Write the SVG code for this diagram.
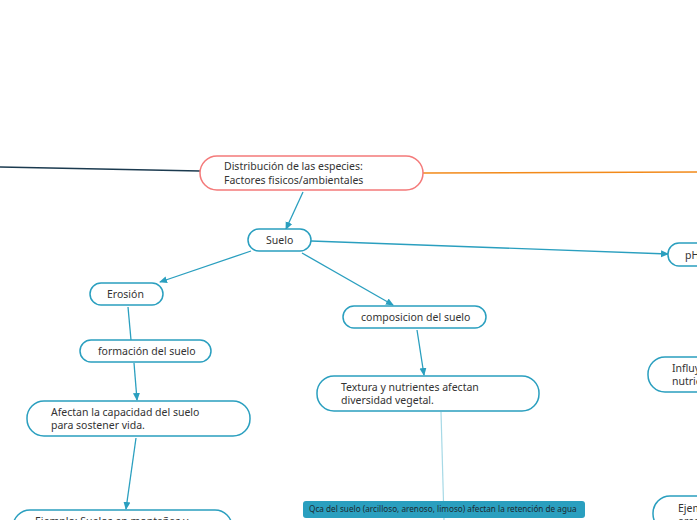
<svg xmlns="http://www.w3.org/2000/svg" width="697" height="520" viewBox="0 0 697 520">
<defs>
<marker id="ah" markerWidth="8" markerHeight="8" refX="7" refY="4" orient="auto" markerUnits="userSpaceOnUse">
<path d="M0,0.5 L8,4 L0,7.5 Z" fill="#2a9fbf"/>
</marker>
<style>
.n{fill:#fff;stroke:#2a9fbf;stroke-width:1.5}
.t{font-family:"Noto Sans","Liberation Sans",sans-serif;font-size:10.5px;fill:#333}
.c{fill:none;stroke:#2a9fbf;stroke-width:1.3}
</style>
</defs>
<rect width="697" height="520" fill="#fff"/>
<g id="connectors">
<path d="M0,167 L200,171" stroke="#1b3a4f" stroke-width="1.5" fill="none"/>
<path d="M423,173 L697,172" stroke="#f28a1a" stroke-width="1.5" fill="none"/>
<path class="c" d="M303,192 L286,229" marker-end="url(#ah)"/>
<path class="c" d="M311,241 L668,254" marker-end="url(#ah)"/>
<path class="c" d="M251,251 L160,282" marker-end="url(#ah)"/>
<path class="c" d="M128,307 L131,340"/>
<path class="c" d="M134,363 L137,400" marker-end="url(#ah)"/>
<path class="c" d="M136,438 L126,509" marker-end="url(#ah)"/>
<path class="c" d="M302,253 L393,305" marker-end="url(#ah)"/>
<path class="c" d="M417,330 L424,375" marker-end="url(#ah)"/>
<path d="M441,412 L444,520" stroke="#a6d9e6" stroke-width="1.2" fill="none"/>
</g>
<g id="main">
<rect x="200" y="156" width="223" height="34" rx="17" fill="#fff" stroke="#f47a7a" stroke-width="1.5"/>
<text class="t" x="224" y="170">Distribución de las especies:</text>
<text class="t" x="224" y="184">Factores fisicos/ambientales</text>
</g>
<g id="suelo">
<rect class="n" x="248" y="229" width="63" height="22" rx="11"/>
<text class="t" x="266" y="244">Suelo</text>
</g>
<g id="ph">
<rect class="n" x="668" y="243" width="60" height="23" rx="11"/>
<text class="t" x="685" y="259">pH</text>
</g>
<g id="erosion">
<rect class="n" x="90" y="283" width="73" height="22" rx="11"/>
<text class="t" x="107" y="298">Erosión</text>
</g>
<g id="formacion">
<rect class="n" x="80" y="340" width="131" height="22" rx="11"/>
<text class="t" x="98" y="355">formación del suelo</text>
</g>
<g id="afectan">
<rect class="n" x="27" y="401" width="223" height="35" rx="17"/>
<text class="t" x="51" y="416">Afectan la capacidad del suelo</text>
<text class="t" x="51" y="429">para sostener vida.</text>
</g>
<g id="ejemplo">
<rect class="n" x="13" y="510" width="219" height="35" rx="17"/>
<text class="t" x="35" y="525">Ejemplo: Suelos en montañas y</text>
</g>
<g id="composicion">
<rect class="n" x="343" y="306" width="143" height="22" rx="11"/>
<text class="t" x="361" y="321">composicion del suelo</text>
</g>
<g id="textura">
<rect class="n" x="317" y="376" width="222" height="35" rx="17"/>
<text class="t" x="341" y="391">Textura y nutrientes afectan</text>
<text class="t" x="341" y="404">diversidad vegetal.</text>
</g>
<g id="qca">
<rect x="303" y="501" width="282" height="17" rx="3" fill="#2a9fbf"/>
<text x="309" y="512" style="font-family:'Noto Sans','Liberation Sans',sans-serif;font-size:8.2px;fill:#1d2a30">Qca del suelo (arcilloso, arenoso, limoso) afectan la retención de agua</text>
</g>
<g id="influye">
<rect class="n" x="648" y="357" width="200" height="35" rx="17"/>
<text class="t" x="672" y="372">Influye en la disponibilidad de</text>
<text class="t" x="672" y="385">nutrientes.</text>
</g>
<g id="ejemplo2">
<rect class="n" x="653" y="496" width="200" height="35" rx="17"/>
<text class="t" x="678" y="512">Ejemplo:</text>
<text class="t" x="678" y="525">areas</text>
</g>
</svg>
